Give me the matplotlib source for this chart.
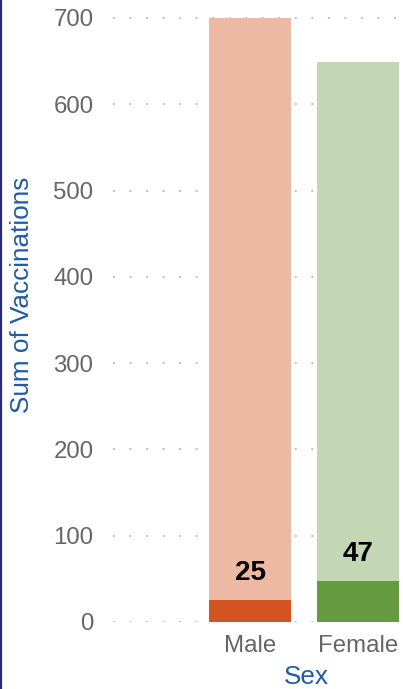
import matplotlib
matplotlib.use("Agg")
import matplotlib.pyplot as plt
from matplotlib.lines import Line2D

plt.rcParams['font.family'] = ['Liberation Sans', 'DejaVu Sans']

# data
sexes = ["Male", "Female"]
totals = [700, 649]
vaccinated = [25, 47]
light_colors = ["#edb9a3", "#c4d7b4"]
dark_colors = ["#d25421", "#669a40"]

W, H = 403, 689
fig = plt.figure(figsize=(W / 100, H / 100), dpi=100)

# axes placed in pixel coordinates
left_px, right_px = 113, 403
bottom_px = 622
ymax = 710
px_per_unit = (622 - 18) / 700
top_px = bottom_px - ymax * px_per_unit
ax = fig.add_axes([left_px / W, 1 - bottom_px / H,
                   (right_px - left_px) / W, (bottom_px - top_px) / H])

x = range(len(sexes))
ax.bar(x, totals, width=0.76, color=light_colors, zorder=2)
ax.bar(x, vaccinated, width=0.76, color=dark_colors, zorder=3)

for xi, v in zip(x, vaccinated):
    ax.annotate(str(v), (xi, v), xytext=(0, 14), textcoords="offset pixels",
                ha="center", va="bottom", fontsize=20, fontweight="bold",
                color="black", zorder=4)

ax.set_xlim(-1.269, 1.417)
ax.set_ylim(0, ymax)
ax.set_yticks(range(0, 701, 100))
ax.set_xticks(list(x))
ax.set_xticklabels(sexes)
ax.tick_params(axis="both", length=0, labelsize=17.3, labelcolor="#666666")
ax.tick_params(axis="y", pad=14)
ax.tick_params(axis="x", pad=9)
ax.yaxis.grid(True, linestyle=(0, (1, 7.5)), color="#c0c0c0", linewidth=1.4, zorder=1)
ax.set_axisbelow(True)
for s in ax.spines.values():
    s.set_visible(False)

fig.text(306 / W, 1 - 677 / H, "Sex", ha="center", va="center",
         fontsize=18.8, color="#1f5ba8")
fig.text(22 / W, 1 - 295 / H, "Sum of Vaccinations", rotation=90,
         ha="center", va="center", fontsize=18.8, color="#1f5ba8")

# left border
fig.add_artist(Line2D([1 / W, 1 / W], [0, 1], transform=fig.transFigure,
                      color="#262b7c", linewidth=1.6))

fig.savefig("out.png", dpi=100)
